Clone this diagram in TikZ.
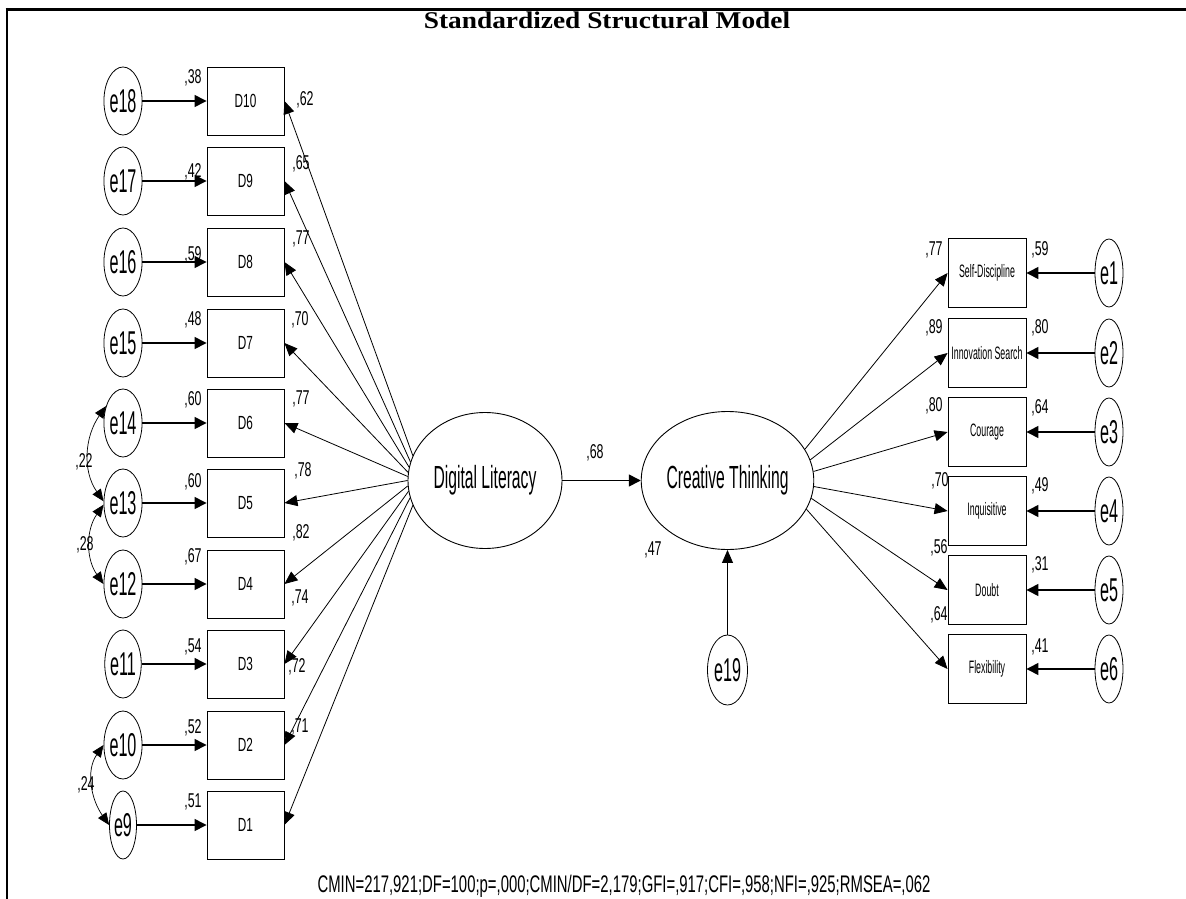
\documentclass[tikz,border=0pt]{standalone}
\usepackage{fontspec}
\setmainfont{Liberation Sans}
\newfontfamily\amosbig[FakeStretch=0.49]{Liberation Sans}
\newfontfamily\amossmall[FakeStretch=0.62]{Liberation Sans}
\newfontfamily\titlefont[FakeStretch=1.14]{Liberation Serif}
\usetikzlibrary{shapes.geometric,arrows.meta}

\tikzset{
  errvar/.style={ellipse,draw,line width=0.8pt,minimum width=27pt,minimum height=68pt,inner sep=0pt,font=\amosbig\fontsize{33}{33}\selectfont},
  obsvar/.style={rectangle,draw,line width=0.9pt,minimum width=77pt,minimum height=68pt,inner sep=0pt,font=\amossmall\fontsize{19}{19}\selectfont},
  factorbox/.style={obsvar,minimum width=78pt,minimum height=69pt,font=\amosbig\fontsize{18}{18}\selectfont},
  latvar/.style={ellipse,draw,line width=0.9pt,inner sep=0pt,font=\amosbig\fontsize{32}{32}\selectfont},
  num/.style={inner sep=0pt,font=\amossmall\fontsize{20}{20}\selectfont},
  regarr/.style={draw=black,line width=1.4pt,-{Triangle[length=12pt,width=12pt]}},
  loadarr/.style={draw=black,line width=0.8pt,-{Triangle[length=13pt,width=11pt]}},
  covarr/.style={draw=black,line width=0.7pt,{Triangle[length=12pt,width=10pt]}-{Triangle[length=12pt,width=10pt]}}
}

\begin{document}
\begin{tikzpicture}[x=1pt,y=1pt]
    \useasboundingbox (0,0) rectangle (1186,-899);
    \draw[line width=3pt] (5.5,-9.5) -- (1186,-9.5);
    \draw[line width=2.5pt] (7,-8) -- (7,-899);

    \node[font=\titlefont\bfseries\fontsize{24}{24}\selectfont] (title) at (607,-20) {Standardized Structural Model};

    \node[errvar] (e18) at (123,-101) {e18};
    \node[errvar] (e17) at (123,-181) {e17};
    \node[errvar] (e16) at (123,-262) {e16};
    \node[errvar] (e15) at (123,-343) {e15};
    \node[errvar] (e14) at (123,-423) {e14};
    \node[errvar] (e13) at (123,-503) {e13};
    \node[errvar] (e12) at (123,-584) {e12};
    \node[errvar] (e11) at (123,-664) {e11};
    \node[errvar] (e10) at (123,-745) {e10};
    \node[errvar] (e9) at (123,-825) {e9};

    \node[obsvar] (d10) at (245.5,-101) {D10};
    \node[obsvar] (d9) at (245.5,-181) {D9};
    \node[obsvar] (d8) at (245.5,-262) {D8};
    \node[obsvar] (d7) at (245.5,-343) {D7};
    \node[obsvar] (d6) at (245.5,-423) {D6};
    \node[obsvar] (d5) at (245.5,-503) {D5};
    \node[obsvar] (d4) at (245.5,-584) {D4};
    \node[obsvar] (d3) at (245.5,-664) {D3};
    \node[obsvar] (d2) at (245.5,-745) {D2};
    \node[obsvar] (d1) at (245.5,-825) {D1};

    \node[latvar,minimum width=154pt,minimum height=136pt] (dl) at (485,-480.5) {Digital Literacy};
    \node[latvar,minimum width=150pt,minimum height=138pt] (ct) at (727.5,-480.5) {Creative Thinking};
    \node[errvar,minimum width=40pt,minimum height=70pt] (e19) at (727.5,-670) {e19};

    \node[factorbox] (sd) at (987,-273) {Self-Discipline};
    \node[factorbox] (is) at (987,-353) {Innovation Search};
    \node[factorbox] (co) at (987,-432) {Courage};
    \node[factorbox] (iq) at (987,-511) {Inquisitive};
    \node[factorbox] (db) at (987,-590) {Doubt};
    \node[factorbox] (fx) at (987,-669) {Flexibility};

    \node[errvar,minimum width=28pt] (e1) at (1109,-273) {e1};
    \node[errvar,minimum width=28pt] (e2) at (1109,-353) {e2};
    \node[errvar,minimum width=28pt] (e3) at (1109,-432) {e3};
    \node[errvar,minimum width=28pt] (e4) at (1109,-511) {e4};
    \node[errvar,minimum width=28pt] (e5) at (1109,-590) {e5};
    \node[errvar,minimum width=28pt] (e6) at (1109,-669) {e6};

    \path (e18) edge[regarr] (d10);
    \path (e17) edge[regarr] (d9);
    \path (e16) edge[regarr] (d8);
    \path (e15) edge[regarr] (d7);
    \path (e14) edge[regarr] (d6);
    \path (e13) edge[regarr] (d5);
    \path (e12) edge[regarr] (d4);
    \path (e11) edge[regarr] (d3);
    \path (e10) edge[regarr] (d2);
    \path (e9) edge[regarr] (d1);

    \path (dl.161) edge[loadarr] (d10.east);
    \path (dl.166) edge[loadarr] (d9.east);
    \path (dl.170) edge[loadarr] (d8.east);
    \path (dl.174) edge[loadarr] (d7.east);
    \path (dl.177) edge[loadarr] (d6.east);
    \path (dl.180) edge[loadarr] (d5.east);
    \path (dl.184) edge[loadarr] (d4.east);
    \path (dl.188) edge[loadarr] (d3.east);
    \path (dl.193) edge[loadarr] (d2.east);
    \path (dl.199) edge[loadarr] (d1.east);

    \path (dl) edge[regarr] (ct);
    \path (e19) edge[loadarr] (ct);

    \path (ct.22) edge[loadarr] (sd.west);
    \path (ct.14) edge[loadarr] (is.west);
    \path (ct.6) edge[loadarr] (co.west);
    \path (ct.-4) edge[loadarr] (iq.west);
    \path (ct.-12) edge[loadarr] (db.west);
    \path (ct.-20) edge[loadarr] (fx.west);

    \path (e1) edge[regarr] (sd);
    \path (e2) edge[regarr] (is);
    \path (e3) edge[regarr] (co);
    \path (e4) edge[regarr] (iq);
    \path (e5) edge[regarr] (db);
    \path (e6) edge[regarr] (fx);

    \path (e14.135) edge[covarr,out=235,in=125] (e13.175);
    \path (e13.185) edge[covarr,out=235,in=125] (e12.180);
    \path (e10.180) edge[covarr,out=235,in=125] (e9.180);

    \node[num] (c1413) at (84,-462) {,22};
    \node[num] (c1312) at (85,-545) {,28};
    \node[num] (c109) at (86,-785) {,24};

    \node[num] (r10) at (193,-78) {,38};
    \node[num] (r9) at (193,-172) {,42};
    \node[num] (r8) at (193,-255) {,59};
    \node[num] (r7) at (193,-320) {,48};
    \node[num] (r6) at (193,-400) {,60};
    \node[num] (r5) at (193,-482) {,60};
    \node[num] (r4) at (193,-557) {,67};
    \node[num] (r3) at (193,-647) {,54};
    \node[num] (r2) at (193,-728) {,52};
    \node[num] (r1) at (193,-802) {,51};

    \node[num] (l10) at (305,-100) {,62};
    \node[num] (l9) at (301,-164) {,65};
    \node[num] (l8) at (301,-239) {,77};
    \node[num] (l7) at (300,-320) {,70};
    \node[num] (l6) at (301,-399) {,77};
    \node[num] (l5) at (303,-471) {,78};
    \node[num] (l4) at (301,-533) {,82};
    \node[num] (l3) at (300,-598) {,74};
    \node[num] (l2) at (297,-667) {,72};
    \node[num] (l1) at (300,-727) {,71};

    \node[num] (b68) at (595,-453) {,68};
    \node[num] (r47) at (653,-550) {,47};

    \node[num] (lsd) at (934,-250) {,77};
    \node[num] (lis) at (934,-328) {,89};
    \node[num] (lco) at (934,-406) {,80};
    \node[num] (liq) at (940,-481) {,70};
    \node[num] (ldb) at (939,-548) {,56};
    \node[num] (lfx) at (939,-615) {,64};

    \node[num] (rsd) at (1040,-250) {,59};
    \node[num] (ris) at (1040,-328) {,80};
    \node[num] (rco) at (1040,-408) {,64};
    \node[num] (riq) at (1040,-486) {,49};
    \node[num] (rdb) at (1040,-565) {,31};
    \node[num] (rfx) at (1040,-647) {,41};

    \node[num,font=\amossmall\fontsize{24}{24}\selectfont] (fit) at (624,-886) {CMIN=217,921;DF=100;p=,000;CMIN/DF=2,179;GFI=,917;CFI=,958;NFI=,925;RMSEA=,062};
  \end{tikzpicture}
\end{document}
